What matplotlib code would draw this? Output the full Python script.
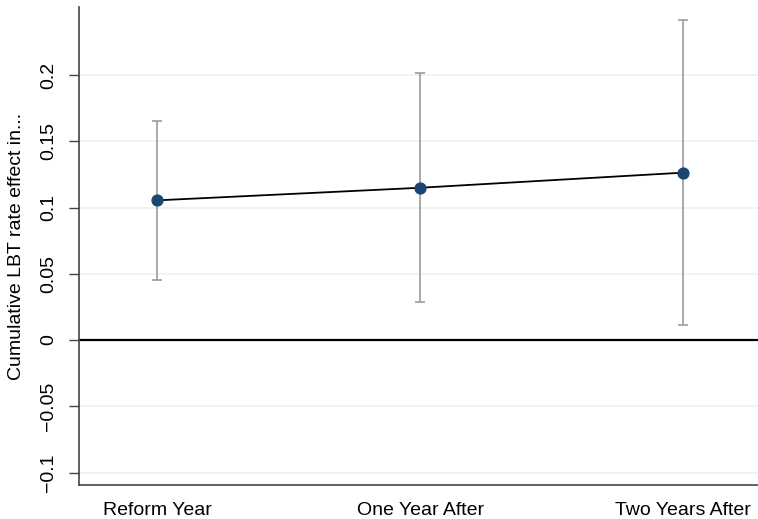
import numpy as np
import matplotlib.pyplot as plt

plt.rcParams['font.family'] = ['Liberation Sans', 'DejaVu Sans']

periods = ['Reform Year', 'One Year After', 'Two Years After']
estimate = [0.1054, 0.1149, 0.1263]
ci_low = [0.0453, 0.0285, 0.0113]
ci_high = [0.1650, 0.2013, 0.2418]

x = np.arange(1, len(periods) + 1)
est = np.array(estimate)
yerr = [est - np.array(ci_low), np.array(ci_high) - est]

fig = plt.figure(figsize=(7.58, 5.19), dpi=100)
ax = fig.add_axes([0.1042, 0.0655, 0.8958, 0.921])

# light horizontal grid
for yv in [-0.1, -0.05, 0.05, 0.1, 0.15, 0.2]:
    ax.axhline(yv, color='#ebf1f2', lw=1.2, zorder=0)
ax.axhline(0, color='black', lw=1.6, zorder=1)

ax.errorbar(x, est, yerr=yerr, fmt='none', ecolor='#a3a3a3', elinewidth=1.3,
            capsize=3.3, capthick=1.3, zorder=2)
ax.plot(x, est, color='black', lw=1.3, zorder=3)
ax.plot(x, est, 'o', color='#1a476f', markersize=7.8, zorder=4)

ax.set_xlim(0.703, 3.285)
ax.set_ylim(-0.1094, 0.2513)
ax.set_xticks(x)
ax.set_xticklabels(periods, fontsize=14)
ax.tick_params(axis='x', length=0, pad=12)

yt = [-0.1, -0.05, 0, 0.05, 0.1, 0.15, 0.2]
ax.set_yticks(yt)
ax.set_yticklabels(['\u22120.1', '\u22120.05', '0', '0.05', '0.1', '0.15', '0.2'],
                   fontsize=14, rotation=90, va='center')
ax.tick_params(axis='y', length=7, width=1, color='#444444', pad=9)

ax.set_ylabel('Cumulative LBT rate effect in...', fontsize=14)
ax.yaxis.set_label_coords(-0.079, 0.5)

for s in ['top', 'right']:
    ax.spines[s].set_visible(False)
for s in ['left', 'bottom']:
    ax.spines[s].set_color('#444444')
    ax.spines[s].set_linewidth(1.2)

fig.savefig('out.png', dpi=100)
